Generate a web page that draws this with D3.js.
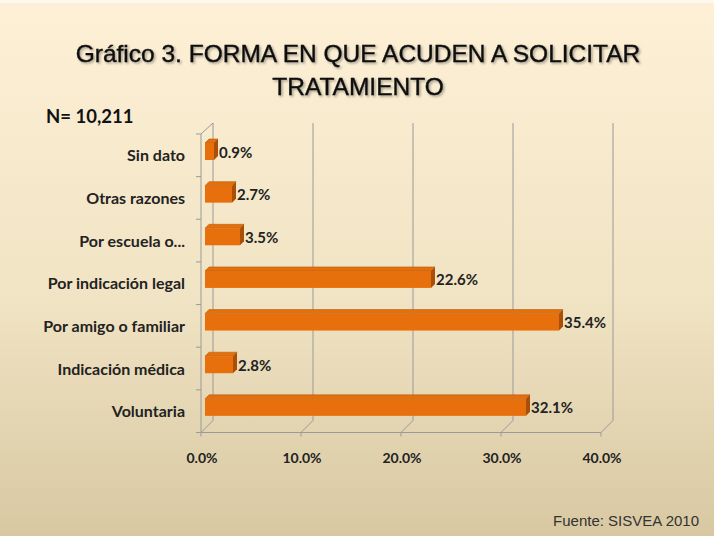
<!DOCTYPE html>
<meta charset="utf-8">
<script src="https://d3js.org/d3.v7.min.js"></script>
<style>
  body { margin: 0; }
</style>
<div id="my_dataviz"></div>
<script>

// data
var categories = ["Sin dato", "Otras razones", "Por escuela o...", "Por indicación legal", "Por amigo o familiar", "Indicación médica", "Voluntaria"];
var values = [0.9, 2.7, 3.5, 22.6, 35.4, 2.8, 32.1];
var ticks = [0, 10, 20, 30, 40];

var W = 714, H = 536;
var depth = 12;   // 3d wall offset
var bd = 4;       // bar depth

var svg = d3.select("#my_dataviz")
  .append("svg")
    .attr("width", W)
    .attr("height", H);

// background gradient
var defs = svg.append("defs");
var grad = defs.append("linearGradient").attr("id", "bg").attr("x1", 0).attr("y1", 0).attr("x2", 0).attr("y2", 1);
grad.append("stop").attr("offset", "0%").attr("stop-color", "#fdf0d6");
grad.append("stop").attr("offset", "55%").attr("stop-color", "#f1e4c4");
grad.append("stop").attr("offset", "100%").attr("stop-color", "#d8c8a2");
var sh = defs.append("filter").attr("id", "shadow").attr("x", "-5%").attr("y", "-20%").attr("width", "110%").attr("height", "150%");
sh.append("feDropShadow").attr("dx", 1.5).attr("dy", 1.5).attr("stdDeviation", 1).attr("flood-color", "#000").attr("flood-opacity", 0.35);

svg.append("rect").attr("width", W).attr("height", H).attr("fill", "url(#bg)");
svg.append("rect").attr("width", W).attr("height", 3).attr("fill", "#fdf8ee");

// title
svg.append("text").attr("x", 358).attr("y", 62).attr("text-anchor", "middle")
  .style("font-family", "Liberation Sans, Arial, sans-serif").style("font-size", "24.5px")
  .attr("fill", "#111").attr("stroke", "#111").attr("stroke-width", 0.4).attr("filter", "url(#shadow)")
  .text("Gráfico 3. FORMA EN QUE ACUDEN A SOLICITAR");
svg.append("text").attr("x", 358).attr("y", 95).attr("text-anchor", "middle")
  .style("font-family", "Liberation Sans, Arial, sans-serif").style("font-size", "24.5px")
  .attr("fill", "#111").attr("stroke", "#111").attr("stroke-width", 0.4).attr("filter", "url(#shadow)")
  .text("TRATAMIENTO");

svg.append("text").attr("x", 46).attr("y", 123)
  .style("font-family", "Lato, sans-serif").style("font-weight", "bold").style("font-size", "18.5px")
  .attr("fill", "#111").text("N= 10,211");

// scales (front plane)
var x = d3.scaleLinear().domain([0, 40]).range([201, 601]);
var y = d3.scaleBand().domain(categories).range([134, 432.5]);

var grid = svg.append("g").attr("stroke", "#9a9a9a").attr("stroke-width", 1).attr("fill", "none");

// back wall gridlines + floor diagonals
ticks.forEach(function (t) {
  grid.append("line").attr("x1", x(t) + depth).attr("x2", x(t) + depth)
    .attr("y1", y.range()[0] - depth + 1).attr("y2", y.range()[1] - depth);
  grid.append("line").attr("x1", x(t) + depth).attr("y1", y.range()[1] - depth)
    .attr("x2", x(t)).attr("y2", y.range()[1]);
  grid.append("line").attr("x1", x(t)).attr("x2", x(t))
    .attr("y1", y.range()[1]).attr("y2", y.range()[1] + 4);
});
// left wall
grid.append("line").attr("x1", x(0)).attr("x2", x(0)).attr("y1", y.range()[0]).attr("y2", y.range()[1]);
grid.append("line").attr("x1", x(0)).attr("y1", y.range()[0]).attr("x2", x(0) + depth).attr("y2", y.range()[0] - depth + 1);
// floor front edge
grid.append("line").attr("x1", x(0)).attr("x2", x(40)).attr("y1", y.range()[1]).attr("y2", y.range()[1]);
// category ticks
y.domain().forEach(function (c) {
  grid.append("line").attr("x1", x(0) - 5).attr("x2", x(0)).attr("y1", y(c)).attr("y2", y(c));
});
grid.append("line").attr("x1", x(0) - 5).attr("x2", x(0)).attr("y1", y.range()[1]).attr("y2", y.range()[1]);

// x tick labels
svg.append("g").selectAll("text").data(ticks).enter().append("text")
  .attr("x", function (d) { return x(d) + 1; })
  .attr("y", 463)
  .attr("text-anchor", "middle")
  .style("font-family", "Lato, sans-serif").style("font-weight", "bold").style("font-size", "14px")
  .attr("fill", "#222")
  .text(function (d) { return d.toFixed(1) + "%"; });

// category labels
svg.append("g").selectAll("text").data(categories).enter().append("text")
  .attr("x", 185)
  .attr("y", function (d) { return y(d) + y.bandwidth() / 2 + 6; })
  .attr("text-anchor", "end")
  .style("font-family", "Lato, sans-serif").style("font-weight", "bold").style("font-size", "16px")
  .attr("fill", "#222")
  .text(function (d) { return d; });

// 3d bars
var bars = svg.append("g").selectAll("g").data(categories).enter().append("g");
var bx0 = x(0) + 4, bh = 17;
function bx(v) { return bx0 + (x(v) - x(0)); }
function by(c) { return y(c) + 9; }

bars.append("path") // top face
  .attr("d", function (c, i) {
    var x1 = bx(values[i]), t = by(c);
    return "M" + bx0 + "," + t + "L" + (bx0 + bd) + "," + (t - bd) + "L" + (x1 + bd) + "," + (t - bd) + "L" + x1 + "," + t + "Z";
  })
  .attr("fill", "#e2700f").attr("stroke", "#b95a0b").attr("stroke-width", 0.6);
bars.append("path") // right face
  .attr("d", function (c, i) {
    var x1 = bx(values[i]), t = by(c);
    return "M" + x1 + "," + t + "L" + (x1 + bd) + "," + (t - bd) + "L" + (x1 + bd) + "," + (t + bh - bd) + "L" + x1 + "," + (t + bh) + "Z";
  })
  .attr("fill", "#a94f08");
bars.append("rect") // front face
  .attr("x", bx0)
  .attr("y", function (c) { return by(c); })
  .attr("width", function (c, i) { return x(values[i]) - x(0); })
  .attr("height", bh)
  .attr("fill", "#e8700c");

// value labels
svg.append("g").selectAll("text").data(categories).enter().append("text")
  .attr("x", function (c, i) { return bx(values[i]) + bd + 1; })
  .attr("y", function (c) { return by(c) + bh / 2 + 6; })
  .style("font-family", "Lato, sans-serif").style("font-weight", "bold").style("font-size", "15px")
  .attr("fill", "#222")
  .text(function (c, i) { return values[i].toFixed(1) + "%"; });

// source
svg.append("text").attr("x", 699).attr("y", 526).attr("text-anchor", "end")
  .style("font-family", "Liberation Sans, Arial, sans-serif").style("font-size", "15px")
  .attr("fill", "#333").text("Fuente: SISVEA 2010");

</script>
